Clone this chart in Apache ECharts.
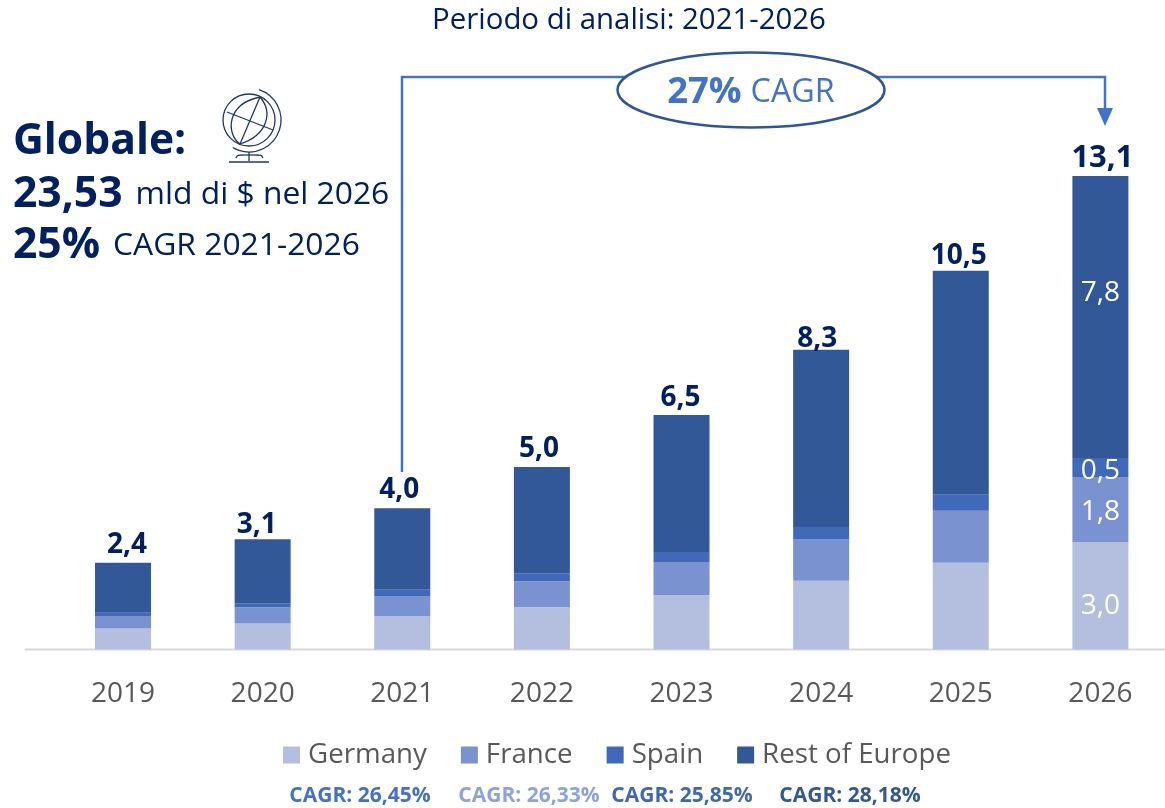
<!DOCTYPE html>
<html>
<head>
<meta charset="utf-8">
<style>html,body{margin:0;padding:0;background:#fff}#c{width:1165px;height:808px}</style>
<script src="https://cdn.jsdelivr.net/npm/echarts@6/dist/echarts.min.js"></script>
</head>
<body>
<div id="c"></div>
<script>
const years = ['2019','2020','2021','2022','2023','2024','2025','2026'];
const germany = [0.58,0.72,0.93,1.17,1.50,1.90,2.40,2.97];
const france  = [0.35,0.45,0.55,0.72,0.92,1.16,1.44,1.80];
const spain   = [0.09,0.11,0.17,0.22,0.28,0.33,0.44,0.53];
const rest    = [1.38,1.77,2.26,2.94,3.79,4.90,6.20,7.80];
const totalLabels = ['2,4','3,1','4,0','5,0','6,5','8,3','10,5','13,1'];
const lastLabels = {Germany:'3,0',France:'1,8',Spain:'0,5','Rest of Europe':'7,8'};
const cagrLabels = ['CAGR: 26,45%','CAGR: 26,33%','CAGR: 25,85%','CAGR: 28,18%'];

const FONT = '"Open Sans", sans-serif';
const NAVY = '#002060';
const BLUE = '#4472C4';
const INK = '#1F3864';
const colors = {Germany:'#B4BFDF',France:'#7A92D0',Spain:'#4069B9','Rest of Europe':'#325898'};
const cagrColors = ['#4472C4','#8EA3D9','#4069B3','#325898'];
const cagrX = [360,529,682,850];
const totalNudge = [[4,-3],[-6,0],[-3,-4],[-3,-3],[-1,-2],[-4,4],[-2,0],[2,-2]];
const totalSize = [28,28,28,28,28,28,28,31];
const innerNudge = {Germany:[0,10],France:[0,2],Spain:[0,4],'Rest of Europe':[0,-24]};

function barSeries(name, data) {
  return {
    name, type:'bar', stack:'s', barWidth:56, data,
    itemStyle:{color:colors[name]},
    label:{
      show:true, position:'inside', color:'#fff', fontFamily:FONT, fontSize:28,
      offset:innerNudge[name],
      formatter:p => p.dataIndex === years.length-1 ? lastLabels[name] : ''
    }
  };
}
const totals = years.map((_,i)=>germany[i]+france[i]+spain[i]+rest[i]);
const globeStyle = {stroke:INK,lineWidth:1.3,fill:'none'};
const gLine = (x1,y1,x2,y2)=>({type:'line',z:4,shape:{x1,y1,x2,y2},style:globeStyle});
const gCurve = (x1,y1,cpx1,cpy1,cpx2,cpy2,x2,y2)=>({type:'bezierCurve',z:4,shape:{x1,y1,cpx1,cpy1,cpx2,cpy2,x2,y2},style:globeStyle});

const chart = echarts.init(document.getElementById('c'),null,{renderer:'canvas'});
chart.setOption({
  animation:false,
  backgroundColor:'#fff',
  title:{text:'Periodo di analisi: 2021-2026',left:624,top:1,textAlign:'center',
    textStyle:{fontFamily:FONT,fontSize:29.4,fontWeight:'normal',color:NAVY}},
  legend:{
    left:278, top:736, itemWidth:17, itemHeight:17, itemGap:34, selectedMode:false, icon:'rect',
    data:['Germany','France','Spain','Rest of Europe'],
    textStyle:{fontFamily:FONT,fontSize:27.7,color:'#595959',padding:[0,0,0,3]}
  },
  grid:{left:53.2,width:1117,top:143.4,height:506.1,outerBoundsMode:'none'},
  xAxis:{type:'category',data:years,
    axisLine:{show:false},axisTick:{show:false},
    axisLabel:{fontFamily:FONT,fontSize:28,color:'#595959',margin:31}},
  yAxis:{type:'value',min:0,max:14,show:false},
  series:[
    barSeries('Germany',germany),
    barSeries('France',france),
    barSeries('Spain',spain),
    barSeries('Rest of Europe',rest),
    {name:'Totale',type:'line',data:totals.map((v,i)=>({value:v,label:{fontSize:totalSize[i],offset:totalNudge[i]}})),
     symbol:'circle',symbolSize:1,showSymbol:true,itemStyle:{color:'rgba(0,0,0,0)'},lineStyle:{color:'rgba(0,0,0,0)'},z:5,
     label:{show:true,position:'top',distance:0,fontFamily:FONT,fontWeight:'bold',color:NAVY,
       formatter:p=>totalLabels[p.dataIndex]}}
  ],
  graphic:[
    {type:'line',shape:{x1:25,y1:649.5,x2:1165,y2:649.5},style:{stroke:'#D9D9D9',lineWidth:2},z:1},
    {type:'polyline',shape:{points:[[402,472],[402,77],[1105,77],[1105,110]]},style:{stroke:BLUE,lineWidth:2.5,fill:'none'},z:2},
    {type:'polygon',shape:{points:[[1097,108],[1113,108],[1105,126]]},style:{fill:BLUE},z:2},
    {type:'ellipse',shape:{cx:751,cy:90,rx:133.5,ry:37.5},style:{fill:'#fff',stroke:'#2F5597',lineWidth:2.5},z:3},
    {type:'text',x:751,y:93,z:4,style:{
      text:'{a|27%}{s| }{b|CAGR}',align:'center',verticalAlign:'middle',
      rich:{a:{fontFamily:FONT,fontSize:36.4,fontWeight:'bold',fill:BLUE,color:BLUE},
            s:{width:9,fontSize:10},
            b:{fontFamily:FONT,fontSize:32.3,fill:BLUE,color:BLUE}}}},
    {type:'text',x:13,y:142,z:4,style:{text:'Globale:',verticalAlign:'middle',fontFamily:FONT,fontSize:42.6,fontWeight:'bold',fill:NAVY}},
    {type:'text',x:13,y:195,z:4,style:{text:'{a|23,53}{s| }{b|mld di $ nel 2026}',verticalAlign:'middle',
      rich:{a:{fontFamily:FONT,fontSize:42.6,fontWeight:'bold',fill:NAVY,color:NAVY},
            s:{width:13,fontSize:10},
            b:{fontFamily:FONT,fontSize:31.8,fill:NAVY,color:NAVY}}}},
    {type:'text',x:13,y:246,z:4,style:{text:'{a|25%}{s| }{b|CAGR 2021-2026}',verticalAlign:'middle',
      rich:{a:{fontFamily:FONT,fontSize:42.6,fontWeight:'bold',fill:NAVY,color:NAVY},
            s:{width:13,fontSize:10},
            b:{fontFamily:FONT,fontSize:31.8,fill:NAVY,color:NAVY}}}},
    {type:'circle',z:4,shape:{cx:249,cy:120,r:26},style:globeStyle},
    {type:'arc',z:4,shape:{cx:249,cy:120,r:32,startAngle:-Math.PI*0.4,endAngle:Math.PI*0.67,clockwise:true},style:globeStyle},
    gLine(260,97,240,144),
    gLine(227,112,273,130),
    gCurve(260,97,226,104,226,134,240,144),
    gCurve(260,97,273,112,268,135,240,144),
    gLine(249,152,249,161),
    gCurve(236,158,237,155,239,155,243,155),
    gLine(243,155,256,155),
    gCurve(256,155,260,155,262,155,263,158),
    gLine(229,162,269,162),
    ...cagrLabels.map((t,i)=>({type:'text',x:cagrX[i],y:796,z:4,style:{
      text:t,align:'center',verticalAlign:'middle',fontFamily:FONT,fontSize:21,fontWeight:'bold',fill:cagrColors[i]}}))
  ]
});
</script>
</body>
</html>
